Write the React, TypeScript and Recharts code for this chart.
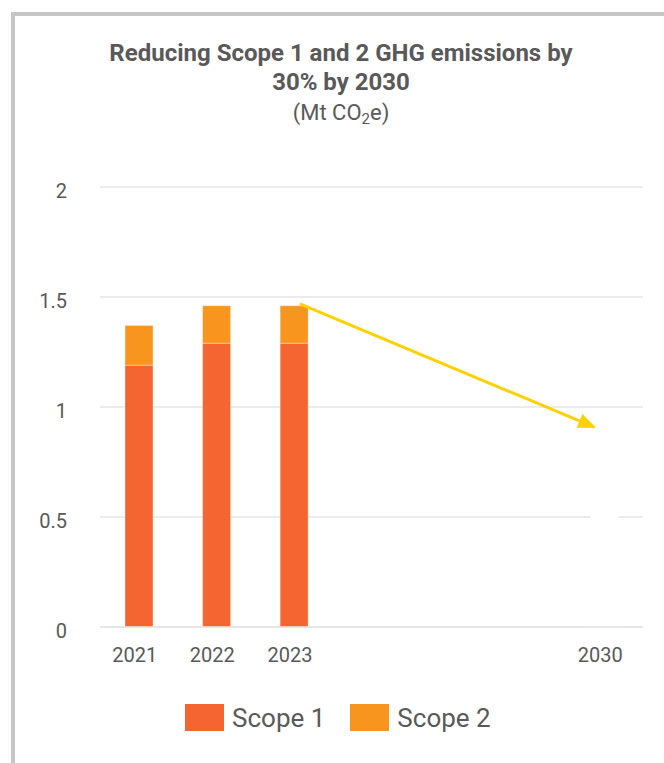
import React from 'react';
import { ComposedChart, Bar, XAxis, YAxis, CartesianGrid, ReferenceLine } from 'recharts';

// ---- data ----
const categories = ['2021', '2022', '2023', 'gap1', 'gap2', 'gap3', '2030'];
const tickLabels = ['2021', '2022', '2023', '', '', '', '2030'];
const scope1 = [1.19, 1.29, 1.29, null, null, null, null];
const scope2 = [0.18, 0.17, 0.17, null, null, null, null];
const target = [null, null, null, null, null, null, 0.9];
const yTicks = [0, 0.5, 1, 1.5, 2];
const arrowStart = { x: '2023', y: 1.48 };
const arrowEnd = { x: '2030', y: 0.89 };
const seriesNames = ['Scope 1', 'Scope 2'];
const seriesColors = ['#F46531', '#F7951F'];
const titleLines = ['Reducing Scope 1 and 2 GHG emissions by', '30% by 2030'];

const data = categories.map((c, i) => ({
  year: c,
  scope1: scope1[i],
  scope2: scope2[i],
  target: target[i],
}));

const TEXT = '#595959';
const FONT = 'Roboto, "Noto Sans", sans-serif';

const ArrowShape = (props: any) => {
  const { x1, y1, x2, y2 } = props;
  if ([x1, y1, x2, y2].some((v) => v == null || isNaN(v))) return null;
  const dx = x2 - x1;
  const t0 = 6 / dx;
  const t1 = 1 - 10 / dx;
  const sx = x1 + dx * t0;
  const sy = y1 + (y2 - y1) * t0;
  const ex = x1 + dx * t1;
  const ey = y1 + (y2 - y1) * t1;
  return (
    <g>
      <defs>
        <marker
          id="arrowHead"
          markerUnits="userSpaceOnUse"
          markerWidth="18"
          markerHeight="15"
          refX="16"
          refY="7.5"
          orient="auto"
          viewBox="0 0 18 15"
        >
          <path d="M0,0 L18,7.5 L0,15 z" fill="#FFD100" />
        </marker>
      </defs>
      <line x1={sx} y1={sy} x2={ex} y2={ey} stroke="#FFD100" strokeWidth={3} markerEnd="url(#arrowHead)" />
    </g>
  );
};

export default function App() {
  return (
    <div
      style={{
        position: 'fixed',
        left: 0,
        top: 0,
        width: 664,
        height: 763,
        overflow: 'hidden',
        background: '#ffffff',
        fontFamily: FONT,
      }}
    >
      <div
        style={{
          position: 'absolute',
          left: 11,
          top: 12,
          width: 900,
          height: 900,
          border: '4px solid #c6c6c6',
          boxSizing: 'border-box',
        }}
      />
      <div
        style={{
          position: 'absolute',
          left: 11,
          top: 39,
          width: 660,
          textAlign: 'center',
          color: TEXT,
          fontFamily: FONT,
        }}
      >
        {titleLines.map((t) => (
          <div key={t} style={{ fontWeight: 700, fontSize: 24, lineHeight: '29px' }}>
            {t}
          </div>
        ))}
        <div style={{ fontSize: 22, lineHeight: '31px' }}>
          (Mt CO<sub style={{ fontSize: 15, verticalAlign: '-4px', lineHeight: 0 }}>2</sub>e)
        </div>
      </div>

      <div style={{ position: 'absolute', left: 0, top: 0 }}>
        <ComposedChart
          width={664}
          height={763}
          data={data}
          margin={{ top: 187, right: 21, left: 40, bottom: 106 }}
          barSize={28}
        >
          <CartesianGrid vertical={false} stroke="#e5e5e5" strokeWidth={1.5} />
          <YAxis
            type="number"
            domain={[0, 2]}
            ticks={yTicks}
            width={60}
            axisLine={false}
            tickLine={false}
            tickMargin={27}
            tick={{ fontSize: 20, fill: TEXT, fontFamily: FONT, dy: 4 }}
            interval={0}
          />
          <Bar dataKey="scope1" name={seriesNames[0]} stackId="a" fill={seriesColors[0]} stroke="#ffffff" strokeOpacity={0.35} strokeWidth={1} isAnimationActive={false} />
          <Bar dataKey="scope2" name={seriesNames[1]} stackId="a" fill={seriesColors[1]} stroke="#ffffff" strokeOpacity={0.35} strokeWidth={1} isAnimationActive={false} />
          <Bar dataKey="target" stackId="a" fill="#ffffff" isAnimationActive={false} />
          <XAxis
            dataKey="year"
            type="category"
            axisLine={{ stroke: '#e5e5e5', strokeWidth: 1.5 }}
            tickLine={false}
            tickMargin={15}
            interval={0}
            tick={{ fontSize: 20, fill: TEXT, fontFamily: FONT, dx: -4 }}
            tickFormatter={(v: string) => tickLabels[categories.indexOf(v)] ?? ''}
          />
          <ReferenceLine
            segment={[arrowStart, arrowEnd]}
            ifOverflow="visible"
            shape={ArrowShape}
          />
        </ComposedChart>
      </div>

      <div
        style={{
          position: 'absolute',
          left: 185,
          top: 704,
          display: 'flex',
          alignItems: 'center',
          height: 27,
          color: TEXT,
          fontFamily: FONT,
          fontSize: 26,
        }}
      >
        {seriesNames.map((n, i) => (
          <div key={n} style={{ display: 'flex', alignItems: 'center', marginRight: 25 }}>
            <div style={{ width: 39, height: 27, background: seriesColors[i], marginRight: 8 }} />
            <span style={{ lineHeight: '27px', position: 'relative', top: 1 }}>{n}</span>
          </div>
        ))}
      </div>
    </div>
  );
}
